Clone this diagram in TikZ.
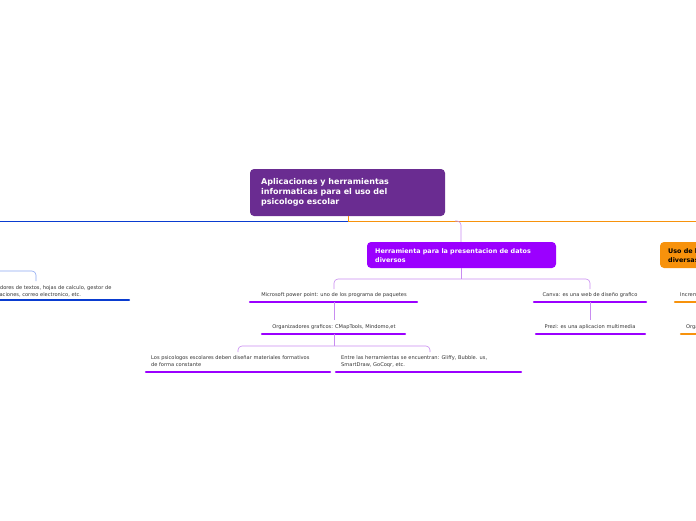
\documentclass[tikz,border=0pt]{standalone}
\usepackage{fontspec}
\setmainfont{DejaVu Sans}
\definecolor{cpurple}{HTML}{6A2C91}
\definecolor{vpurple}{HTML}{9B00FF}
\definecolor{lpurple}{HTML}{C88CF0}
\definecolor{corange}{HTML}{F7920C}
\definecolor{cblue}{HTML}{0A3CD0}
\definecolor{lblue}{HTML}{8CA8F0}
\begin{document}
\begin{tikzpicture}[x=1pt,y=-1pt,
  box/.style={rounded corners=4pt,inner sep=0pt,anchor=north west},
  ttl/.style={text=white,font=\bfseries\fontsize{8}{10}\selectfont,align=left,anchor=north west,inner sep=0pt},
  small/.style={font=\fontsize{5.1}{7.6}\selectfont,text=black!80,inner sep=0pt,align=left},
  ul/.style={line width=2.2pt,line cap=round},
  conn/.style={line width=0.6pt,rounded corners=4pt}]
\useasboundingbox (0,0) rectangle (696,520);
\clip (0,0) rectangle (696,520);
% central
\fill[cpurple,rounded corners=4pt] (250,169) rectangle (445,216);
\node[ttl] (c) at (261,178) {Aplicaciones y herramientas\\informaticas para el uso del\\psicologo escolar};
\draw[cblue,line width=0.7pt] (0,221) -- (348,221);
\draw[corange,line width=0.7pt] (348,216) -- (348,221) -- (696,221);
% purple branch
\draw[lpurple,conn] (455,221) -- (461,221) -- (461,242);
\fill[vpurple,rounded corners=4pt] (367,242) rectangle (556,268);
\node[ttl,font=\bfseries\fontsize{6.4}{9}\selectfont] (h) at (375,248) {Herramienta para la presentacion de datos\\diversos};
\draw[lpurple,conn] (461,268) -- (461,279);
\draw[lpurple,conn] (334,289) -- (334,279) -- (590,279) -- (590,289);
\node[small] (mp) at (334,295) {Microsoft power point: uno de los programa de paquetes};
\draw[vpurple,ul] (250,302) -- (417,302);
\draw[lpurple,line width=0.6pt] (334,302) -- (334,320);
\node[small] (og) at (334,327) {Organizadores graficos: CMapTools, Mindomo,et};
\draw[vpurple,ul] (262,334) -- (405,334);
\draw[lpurple,conn] (334,334) -- (334,346);
\draw[lpurple,conn] (238,352) -- (238,346) -- (430,346) -- (430,352);
\node[small,anchor=north west] (ps) at (151,355) {Los psicologos escolares deben diseñar materiales formativos\\de forma constante};
\draw[vpurple,ul] (146,372) -- (330,372);
\node[small,anchor=north west] (en) at (341,355) {Entre las herramientas se encuentran: Gliffy, Bubble. us,\\SmartDraw, GoCoqr, etc.};
\draw[vpurple,ul] (336,372) -- (521,372);
\node[small] (cv) at (590,295) {Canva: es una web de diseño grafico};
\draw[vpurple,ul] (534,302) -- (646,302);
\draw[lpurple,line width=0.6pt] (590,302) -- (590,320);
\node[small] (pz) at (590,327) {Prezi: es una aplicacion multimedia};
\draw[vpurple,ul] (536,334) -- (645,334);
% orange branch
\fill[corange,rounded corners=4pt] (660,242) rectangle (720,268);
\node[ttl,text=black,font=\bfseries\fontsize{6.4}{9}\selectfont] (u) at (668,248) {Uso de herramientas\\diversas};
\node[small,anchor=west] (in) at (680,295) {Incremento};
\draw[corange,ul] (675,302) -- (700,302);
\node[small,anchor=west] (or) at (686,327) {Organizadores};
\draw[corange,ul] (681,334) -- (700,334);
% blue branch
\draw[lblue,conn] (-10,271) -- (36,271) -- (36,281);
\node[small,anchor=north west] (pt) at (-20,285) {Procesadores de textos, hojas de calculo, gestor de\\presentaciones, correo electronico, etc.};
\draw[cblue,ul] (-5,300) -- (129,300);
\end{tikzpicture}
\end{document}
